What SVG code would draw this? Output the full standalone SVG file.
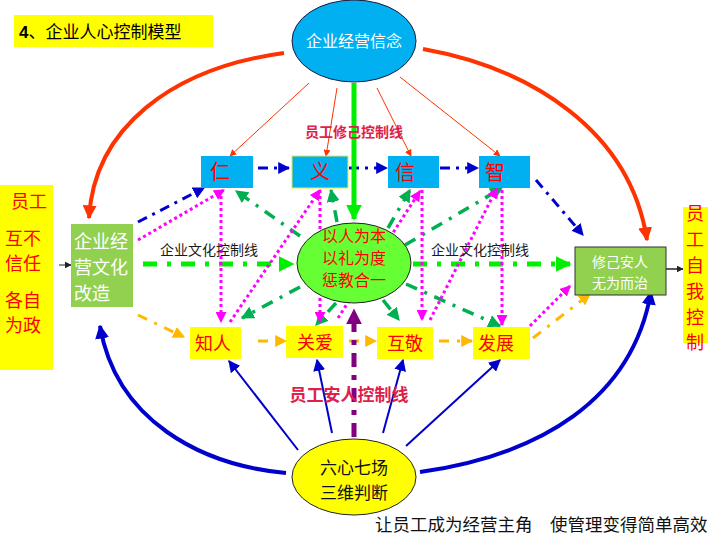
<svg xmlns="http://www.w3.org/2000/svg" width="720" height="540" viewBox="0 0 720 540">
<defs>
<style>
.cjk{font-family:"Noto Sans CJK SC","Liberation Sans",sans-serif;}
.bt{font-size:20px;fill:#ff0000;}
.yt{font-size:18px;fill:#ff0000;}
.blue{fill:#00b0f0;}
.ybox{fill:#ffff00;}
.lab{font-size:14px;fill:#1a1a1a;}
.ctl{fill:#e0204a;font-weight:bold;}
.bl{stroke:#0000cc;stroke-width:3;fill:none;stroke-dasharray:10 6 3 6;}
.gd{stroke:#00b050;stroke-width:3.5;fill:none;stroke-dasharray:12 8 3 8;}
.mg{stroke:#ff00ff;stroke-width:3;fill:none;stroke-dasharray:3 3;}
.or{stroke:#ffb800;stroke-width:3;fill:none;stroke-dasharray:10 8 3 8;}
.tr{stroke:#ff3300;stroke-width:1;fill:none;}
.tb{stroke:#0000cc;stroke-width:2;fill:none;}
</style>
<marker id="aBlue" viewBox="0 0 10 10" refX="9" refY="5" markerWidth="12" markerHeight="12" markerUnits="userSpaceOnUse" orient="auto"><path d="M0,0L10,5L0,10z" fill="#0000cc"/></marker>
<marker id="aBlueB" viewBox="0 0 10 10" refX="9" refY="5" markerWidth="14" markerHeight="14" markerUnits="userSpaceOnUse" orient="auto"><path d="M0,0L10,5L0,10z" fill="#0000cc"/></marker>
<marker id="aGreen" viewBox="0 0 10 10" refX="9" refY="5" markerWidth="13" markerHeight="13" markerUnits="userSpaceOnUse" orient="auto"><path d="M0,0L10,5L0,10z" fill="#00b050"/></marker>
<marker id="aLime" viewBox="0 0 10 10" refX="9" refY="5" markerWidth="16" markerHeight="16" markerUnits="userSpaceOnUse" orient="auto"><path d="M0,0L10,5L0,10z" fill="#00ee00"/></marker>
<marker id="aMag" viewBox="0 0 10 10" refX="9" refY="5" markerWidth="11" markerHeight="11" markerUnits="userSpaceOnUse" orient="auto"><path d="M0,0L10,5L0,10z" fill="#ff00ff"/></marker>
<marker id="aOr" viewBox="0 0 10 10" refX="9" refY="5" markerWidth="12" markerHeight="12" markerUnits="userSpaceOnUse" orient="auto"><path d="M0,0L10,5L0,10z" fill="#ffb800"/></marker>
<marker id="aRed" viewBox="0 0 10 10" refX="9" refY="5" markerWidth="14" markerHeight="14" markerUnits="userSpaceOnUse" orient="auto"><path d="M0,0L10,5L0,10z" fill="#ff3300"/></marker>
<marker id="aRedS" viewBox="0 0 10 10" refX="9" refY="5" markerWidth="7" markerHeight="7" markerUnits="userSpaceOnUse" orient="auto"><path d="M0,0L10,5L0,10z" fill="#ff3300"/></marker>
<marker id="aPur" viewBox="0 0 10 10" refX="9" refY="5" markerWidth="16" markerHeight="16" markerUnits="userSpaceOnUse" orient="auto"><path d="M0,0L10,5L0,10z" fill="#800080"/></marker>
<marker id="aBlk" viewBox="0 0 10 10" refX="9" refY="5" markerWidth="7" markerHeight="7" markerUnits="userSpaceOnUse" orient="auto"><path d="M0,0L10,5L0,10z" fill="#222"/></marker>
</defs>
<rect width="720" height="540" fill="#ffffff"/>

<g id="title">
<rect x="14" y="15" width="199" height="32" fill="#ffff00"/>
<text x="19" y="38" class="cjk" font-size="17" fill="#000"><tspan font-family="Liberation Sans" font-weight="bold">4</tspan>、企业人心控制模型</text>
</g>

<g id="connectors">
<path d="M284,53 C172,68 94,128 89,218" stroke="#ff3300" stroke-width="4" fill="none" marker-end="url(#aRed)"/>
<path d="M423,49 C530,68 630,130 647,240" stroke="#ff3300" stroke-width="4" fill="none" marker-end="url(#aRed)"/>
<path class="tr" d="M309,83 L230,156" marker-end="url(#aRedS)"/>
<path class="tr" d="M337,88 L326,156" marker-end="url(#aRedS)"/>
<path class="tr" d="M377,88 L411,156" marker-end="url(#aRedS)"/>
<path class="tr" d="M400,77 L500,156" marker-end="url(#aRedS)"/>
<path class="bl" d="M138,222 L204,188" marker-end="url(#aBlue)"/>
<path class="bl" d="M258,168 L289,168" marker-end="url(#aBlue)"/>
<path class="bl" d="M349,168 L387,168" marker-end="url(#aBlue)"/>
<path class="bl" d="M440,168 L478,168" marker-end="url(#aBlue)"/>
<path class="bl" d="M536,180 L583,235" marker-end="url(#aBlue)"/>
<path d="M354,83 L354,219" stroke="#00ee00" stroke-width="5" fill="none" marker-end="url(#aLime)"/>
<path d="M143,264 L293,264" stroke="#00ee00" stroke-width="5" fill="none" stroke-dasharray="14 10 4 10" marker-end="url(#aLime)"/>
<path d="M413,264 L570,264" stroke="#00ee00" stroke-width="5" fill="none" stroke-dasharray="14 10 4 10" marker-end="url(#aLime)"/>
<path class="gd" d="M300,236 L236,191" marker-end="url(#aGreen)"/>
<path class="gd" d="M337,222 L331,190" marker-end="url(#aGreen)"/>
<path class="gd" d="M388,228 L410,190" marker-end="url(#aGreen)"/>
<path class="gd" d="M405,245 L502,188" marker-end="url(#aGreen)"/>
<path class="gd" d="M300,287 L242,318" marker-end="url(#aGreen)"/>
<path class="gd" d="M336,303 L316,325" marker-end="url(#aGreen)"/>
<path class="gd" d="M383,300 L399,320" marker-end="url(#aGreen)"/>
<path class="gd" d="M406,284 L500,326" marker-end="url(#aGreen)"/>
<path class="mg" d="M138,240 L224,190" marker-end="url(#aMag)"/>
<path class="mg" d="M221,190 L221,322" marker-end="url(#aMag)"/>
<path class="mg" d="M230,322 L320,190" marker-end="url(#aMag)"/>
<path class="mg" d="M320,190 L320,322" marker-end="url(#aMag)"/>
<path class="mg" d="M338,318 L420,191" marker-end="url(#aMag)"/>
<path class="mg" d="M422,190 L422,320" marker-end="url(#aMag)"/>
<path class="mg" d="M430,320 L497,188" marker-end="url(#aMag)"/>
<path class="mg" d="M502,190 L502,325" marker-end="url(#aMag)"/>
<path class="mg" d="M530,326 L570,286" marker-end="url(#aMag)"/>
<path class="or" d="M138,315 L184,337" marker-end="url(#aOr)"/>
<path class="or" d="M258,341 L286,341" marker-end="url(#aOr)"/>
<path class="or" d="M349,341 L376,341" marker-end="url(#aOr)"/>
<path class="or" d="M439,341 L472,341" marker-end="url(#aOr)"/>
<path class="or" d="M533,338 L590,294" marker-end="url(#aOr)"/>
<path d="M354,437 L354,310" stroke="#800080" stroke-width="5" fill="none" stroke-dasharray="14 8 5 8" marker-end="url(#aPur)"/>
<path class="tb" d="M298,450 L229,361" marker-end="url(#aBlue)"/>
<path class="tb" d="M332,433 L317,360" marker-end="url(#aBlue)"/>
<path class="tb" d="M383,433 L403,360" marker-end="url(#aBlue)"/>
<path class="tb" d="M406,446 L500,360" marker-end="url(#aBlue)"/>
<path d="M286,473 C200,465 116,420 100,326" stroke="#0000cc" stroke-width="4" fill="none" marker-end="url(#aBlueB)"/>
<path d="M420,472 C540,455 632,400 651,292" stroke="#0000cc" stroke-width="4" fill="none" marker-end="url(#aBlueB)"/>
<path d="M59,265 L71,265" stroke="#222" stroke-width="1" marker-end="url(#aBlk)"/>
<path d="M666,269 L683,269" stroke="#222" stroke-width="1.5" marker-end="url(#aBlk)"/>
</g>

<g id="labels">
<text x="354" y="137" class="cjk ctl" style="font-size:14px" text-anchor="middle">员工修己控制线</text>
<text x="209" y="255" class="cjk lab" text-anchor="middle">企业文化控制线</text>
<text x="480" y="255" class="cjk lab" text-anchor="middle">企业文化控制线</text>
<text x="349" y="401" class="cjk ctl" style="font-size:17px" text-anchor="middle">员工安人控制线</text>
<text class="cjk" font-size="17.5" fill="#111"><tspan x="375" y="531">让员工成为经营主角</tspan><tspan x="550" y="531">使管理变得简单高效</tspan></text>
</g>

<g id="belief">
<ellipse cx="354" cy="41" rx="62" ry="41" fill="#00b0f0" stroke="#1a1a40" stroke-width="1"/>
<text x="354" y="47" class="cjk" font-size="16" fill="#ffffff" text-anchor="middle">企业经营信念</text>
</g>

<g id="ren"><rect x="201" y="156" width="52" height="32" class="blue"/><text x="220" y="179" class="cjk bt" text-anchor="middle">仁</text></g>
<g id="yi"><rect x="292" y="156" width="56" height="32" class="blue" stroke="#e8e840" stroke-width="1"/><text x="320" y="179" class="cjk bt" text-anchor="middle">义</text></g>
<g id="xin"><rect x="388" y="156" width="51" height="32" class="blue"/><text x="405" y="180" class="cjk bt" text-anchor="middle">信</text></g>
<g id="zhi"><rect x="479" y="156" width="51" height="32" class="blue"/><text x="495" y="180" class="cjk bt" text-anchor="middle">智</text></g>

<g id="zhiren"><rect x="190" y="327" width="51" height="32" class="ybox"/><text x="213" y="350" class="cjk yt" text-anchor="middle">知人</text></g>
<g id="guanai"><rect x="286" y="326" width="57" height="32" class="ybox"/><text x="315" y="349" class="cjk yt" text-anchor="middle">关爱</text></g>
<g id="hujing"><rect x="377" y="327" width="56" height="32" class="ybox"/><text x="405" y="350" class="cjk yt" text-anchor="middle">互敬</text></g>
<g id="fazhan"><rect x="473" y="327" width="57" height="32" class="ybox"/><text x="496" y="350" class="cjk yt" text-anchor="middle">发展</text></g>

<g id="core">
<ellipse cx="354" cy="263" rx="57" ry="40" fill="#66ff33" stroke="#222" stroke-width="1"/>
<text class="cjk" font-size="16" fill="#ff0000" text-anchor="middle"><tspan x="354" y="242">以人为本</tspan><tspan x="354" y="264">以礼为度</tspan><tspan x="354" y="286">惩教合一</tspan></text>
</g>

<g id="culture">
<rect x="71" y="224" width="62" height="83" fill="#92d050"/>
<text class="cjk" font-size="18" fill="#ffffff"><tspan x="74" y="248">企业经</tspan><tspan x="74" y="274">营文化</tspan><tspan x="74" y="300">改造</tspan></text>
</g>

<g id="selfgov">
<rect x="575" y="247" width="91" height="48" fill="#92d050" stroke="#333" stroke-width="1"/>
<text class="cjk" font-size="14" fill="#ffffff" text-anchor="middle"><tspan x="620" y="267">修己安人</tspan><tspan x="620" y="288">无为而治</tspan></text>
</g>

<g id="left-note">
<rect x="0" y="185" width="53" height="185" fill="#ffff00"/>
<text class="cjk" font-size="18" fill="#ff0000"><tspan x="11" y="208">员工</tspan><tspan x="5" y="245">互不</tspan><tspan x="5" y="270">信任</tspan><tspan x="5" y="307">各自</tspan><tspan x="5" y="332">为政</tspan></text>
</g>

<g id="right-note">
<rect x="683" y="207" width="25" height="136" fill="#ffff00"/>
<text class="cjk" font-size="18" fill="#ff0000" text-anchor="middle"><tspan x="695" y="220">员</tspan><tspan x="695" y="246">工</tspan><tspan x="695" y="272">自</tspan><tspan x="695" y="298">我</tspan><tspan x="695" y="324">控</tspan><tspan x="695" y="349">制</tspan></text>
</g>

<g id="judge">
<ellipse cx="354" cy="477" rx="62" ry="38" fill="#ffff00" stroke="#222" stroke-width="1"/>
<text class="cjk" font-size="17" fill="#111" text-anchor="middle"><tspan x="354" y="474">六心七场</tspan><tspan x="354" y="499">三维判断</tspan></text>
</g>
</svg>
